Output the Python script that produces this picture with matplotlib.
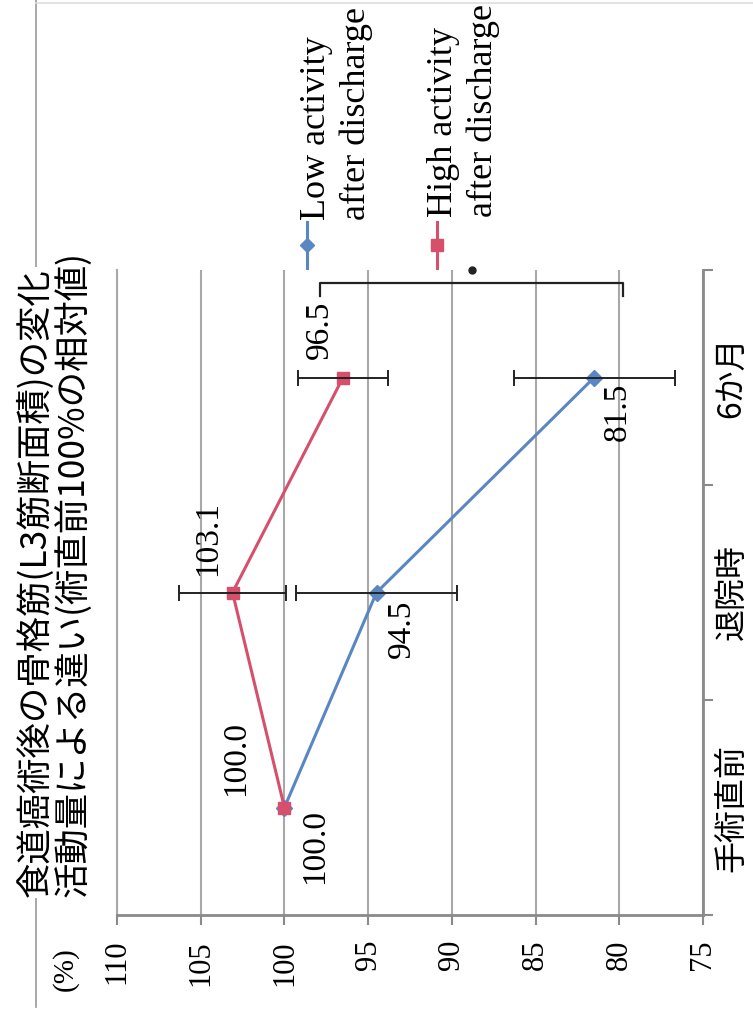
import numpy as np
import matplotlib.pyplot as plt
from matplotlib.lines import Line2D

# chart data
categories = ["手術直前", "退院時", "6か月"]
low_values = [100.0, 94.5, 81.5]
high_values = [100.0, 103.1, 96.5]
low_sd = [4.8, 4.8]    # 退院時, 6か月 (no bar at baseline)
high_sd = [3.2, 2.7]
value_ticks = [110, 105, 100, 95, 90, 85, 80, 75]
legend_labels = ["Low activity\nafter discharge", "High activity\nafter discharge"]
title_lines = ["食道癌術後の骨格筋(L3筋断面積)の変化",
               "活動量による違い(術直前100%の相対値)"]

W, H = 753, 1017


def fx(x):
    return x / W


def fy(y):
    return 1 - y / H


BLUE = "#5a86c4"
RED = "#d6506c"
GRID = "#a8a8a8"
AXIS = "#8a8a8a"
CJK = ["Noto Sans CJK JP", "DejaVu Sans"]
SERIF = ["Liberation Serif", "DejaVu Serif"]
plt.rcParams["font.family"] = SERIF

fig = plt.figure(figsize=(W / 100, H / 100), dpi=100)
# the whole chart is turned 90 degrees counter-clockwise:
# value axis runs along the bottom, categories go up the right side
ax = fig.add_axes([fx(117), fy(915), fx(703) - fx(117), fy(270) - fy(915)])
pos = np.arange(len(categories))

ax.plot(low_values, pos, color=BLUE, lw=2.2, marker="D", ms=8, zorder=3)
ax.plot(high_values, pos, color=RED, lw=2.2, marker="s", ms=9, zorder=3)
ax.errorbar(low_values[1:], pos[1:], xerr=low_sd, fmt="none", ecolor="#222222",
            elinewidth=1.4, capsize=5.5, capthick=1.4, zorder=4)
ax.errorbar(high_values[1:], pos[1:], xerr=high_sd, fmt="none", ecolor="#222222",
            elinewidth=1.4, capsize=5.5, capthick=1.4, zorder=4)

# data labels (offsets in value / category units)
low_off = [(-1.8, -0.18), (-1.5, -0.17), (-1.4, -0.16)]
high_off = [(2.9, 0.23), (1.5, 0.25), (1.4, 0.22)]
for vals, offs in [(low_values, low_off), (high_values, high_off)]:
    for i, v in enumerate(vals):
        ax.text(v + offs[i][0], pos[i] + offs[i][1], f"{v:.1f}", rotation=90,
                ha="center", va="center", fontsize=24, family=SERIF, zorder=5)

# significance bracket between the two 6-month points
ax.plot([97.9, 97.9, 79.8, 79.8], [2.38, 2.44, 2.44, 2.38], color="#222222",
        lw=1.6, clip_on=False, zorder=5)
ax.plot([88.8], [2.5], "o", color="#222222", ms=5, clip_on=False, zorder=5)

ax.set_xlim(110, 75)
ax.set_xticks(value_ticks)
ax.set_xticklabels([str(v) for v in value_ticks], rotation=90, family=SERIF)
ax.tick_params(axis="x", direction="out", length=7, width=1.5, color=AXIS,
               pad=11, labelsize=22)

ax.set_ylim(-0.5, 2.5)
ax.yaxis.tick_right()
ax.set_yticks(pos)
ax.set_yticklabels(categories, rotation=90, va="center", ha="left",
                   family=CJK, fontsize=23)
ax.set_yticks([-0.5, 0.5, 1.5, 2.5], minor=True)
ax.tick_params(axis="y", which="major", length=0, pad=9)
ax.tick_params(axis="y", which="minor", length=7, width=1.5, color=AXIS,
               direction="out", right=True, left=False)

ax.grid(axis="x", color=GRID, lw=1.5)
ax.set_axisbelow(True)
ax.spines["top"].set_visible(False)
ax.spines["left"].set_color(GRID)
ax.spines["left"].set_linewidth(1.5)
for s in ["bottom", "right"]:
    ax.spines[s].set_color(AXIS)
    ax.spines[s].set_linewidth(2)

# unit label
fig.text(fx(65), fy(947), "(%)", rotation=90, ha="center", va="top",
         fontsize=21, family=SERIF)

# chart frame edges
fig.add_artist(Line2D([fx(36), fx(36)], [fy(0), fy(1007)], color="#9a9a9a",
                      lw=1.2, transform=fig.transFigure, zorder=0))
fig.add_artist(Line2D([fx(36), fx(753)], [fy(3), fy(3)], color="#dddddd",
                      lw=1.2, transform=fig.transFigure, zorder=0))

# title
fig.text(fx(35), fy(897), title_lines[0], rotation=90, ha="center", va="bottom",
         family=CJK, fontsize=25.5, zorder=3,
         bbox=dict(facecolor="white", edgecolor="none", pad=1))
fig.text(fx(73), fy(897), title_lines[1], rotation=90, ha="center", va="bottom",
         family=CJK, fontsize=25.5, zorder=3)

# legend, drawn by hand because the text is turned
for col, mk, ms, lx in [(BLUE, "D", 7, 307), (RED, "s", 9, 437)]:
    fig.add_artist(Line2D([fx(lx), fx(lx)], [fy(222), fy(268)], color=col, lw=2.2,
                          transform=fig.transFigure))
    fig.add_artist(Line2D([fx(lx)], [fy(245)], color=col, marker=mk, ms=ms,
                          transform=fig.transFigure))
for lab, tx, ty in zip(legend_labels, [300, 427], [220, 217]):
    fig.text(fx(tx), fy(ty), lab, rotation=90, ha="left", va="bottom",
             fontsize=26, family=SERIF, linespacing=1.25, multialignment="left")

fig.savefig("out.png", dpi=100)
